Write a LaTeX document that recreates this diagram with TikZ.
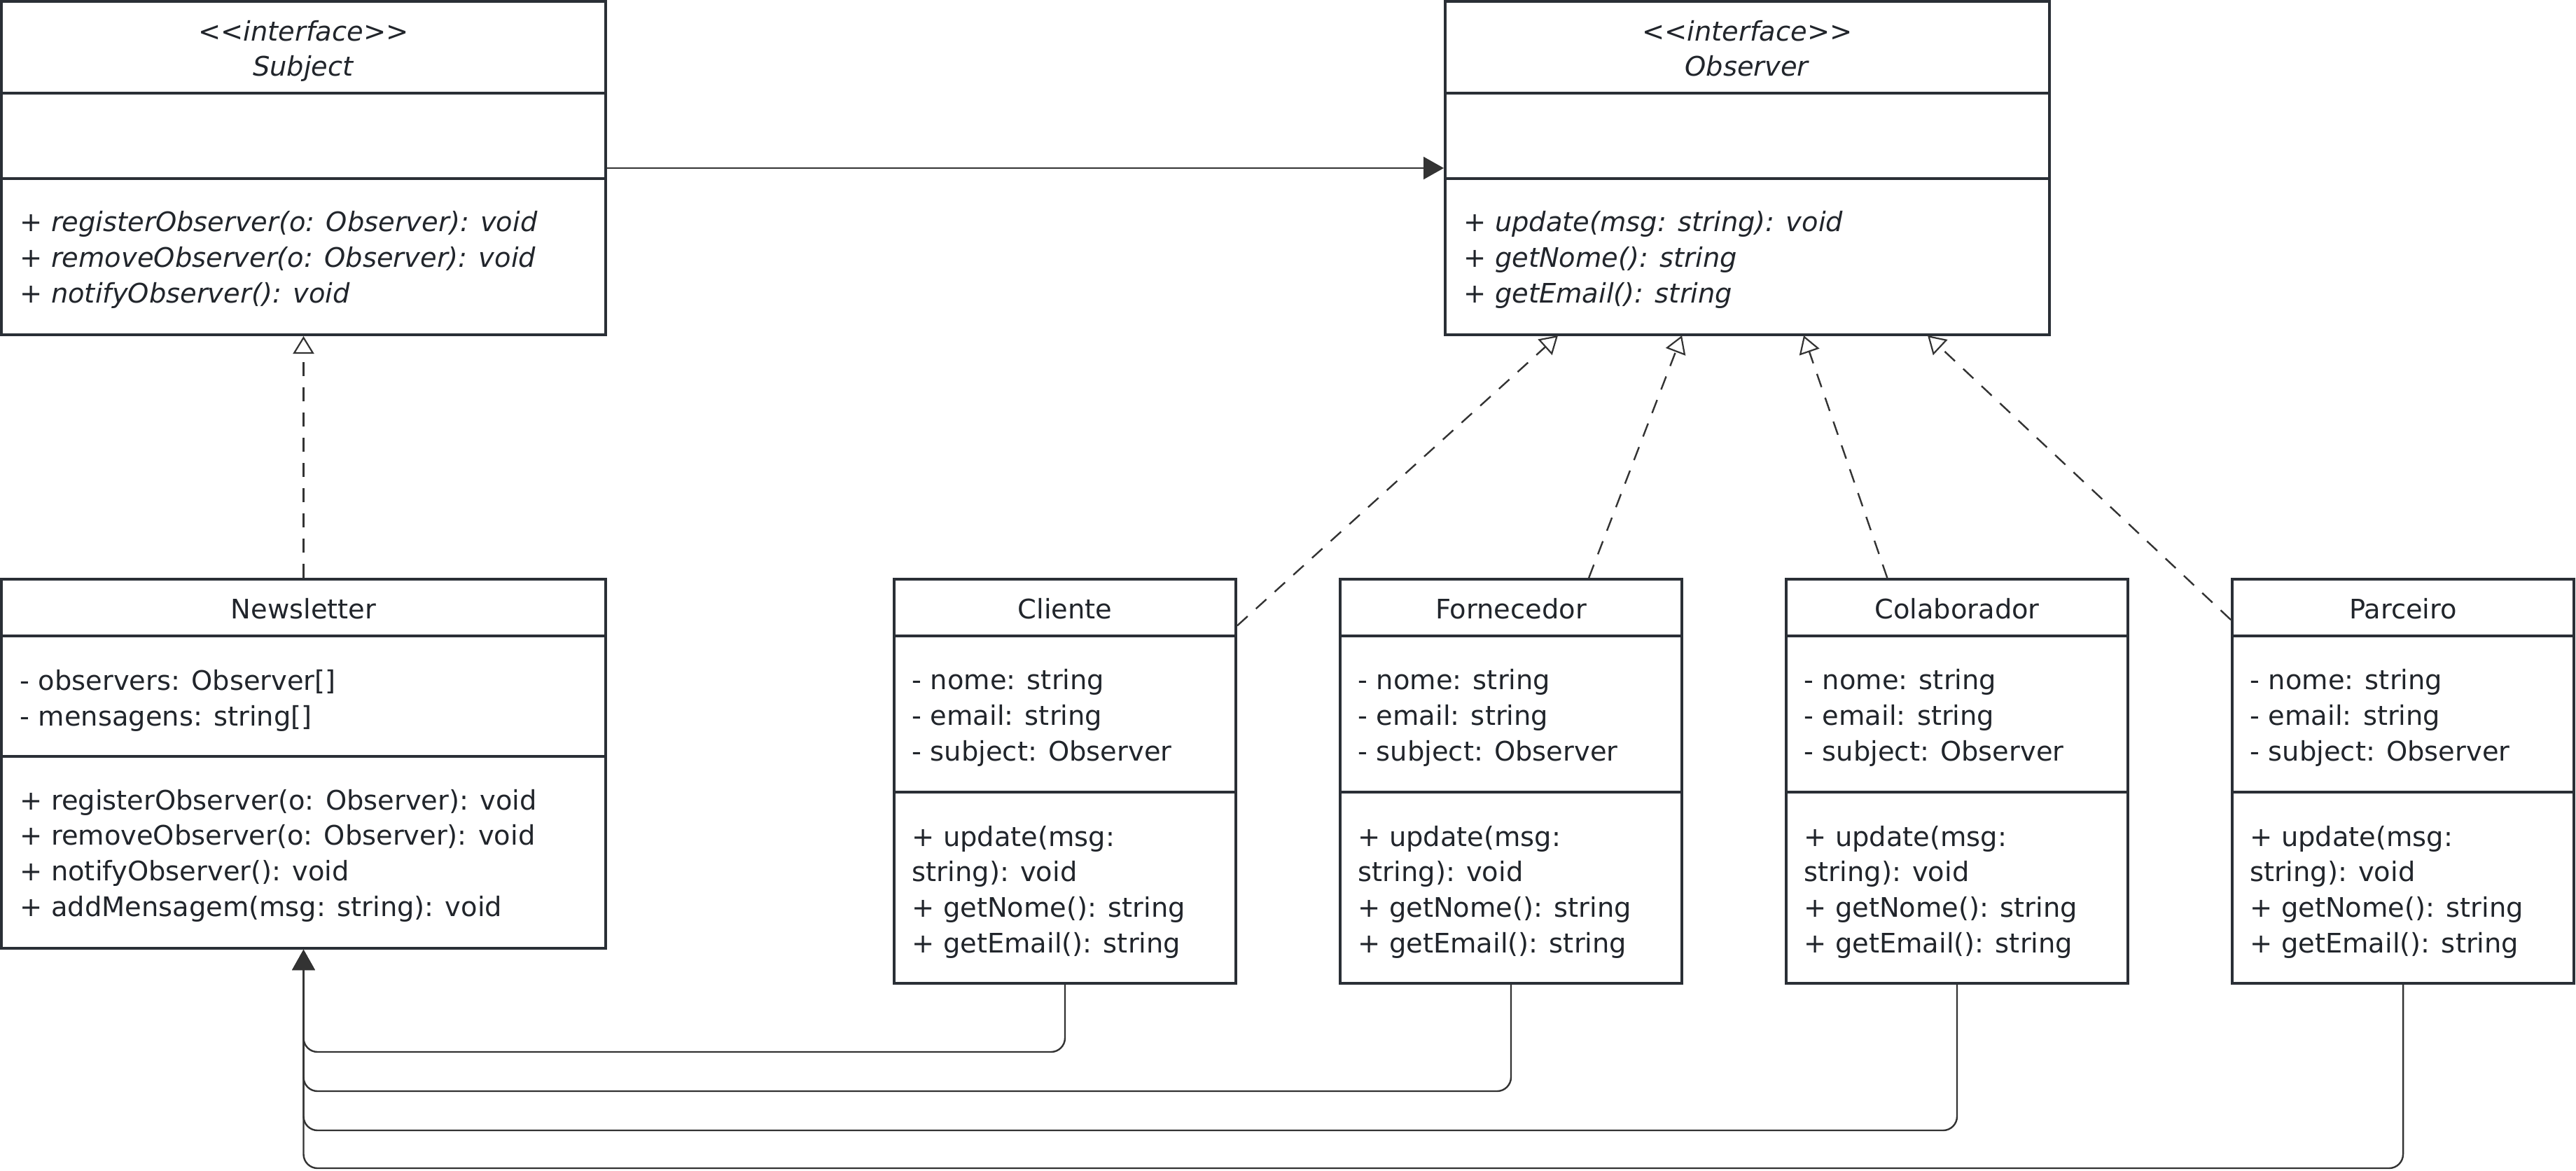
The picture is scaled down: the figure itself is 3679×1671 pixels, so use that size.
\documentclass[tikz,border=0pt]{standalone}
\usepackage{fontspec}
\setmainfont{DejaVu Sans}
\usetikzlibrary{arrows.meta,fit}
\definecolor{ink}{RGB}{42,47,54}
\definecolor{txt}{RGB}{33,37,43}
\definecolor{lnk}{RGB}{51,51,51}
\newcommand\stereo{<\kern0pt<interface>\kern0pt>}
\begin{document}
\begin{tikzpicture}[x=0.25pt,y=-0.25pt,
  box/.style={draw=ink, line width=1pt, inner sep=0pt, fill=white},
  div/.style={draw=ink, line width=1pt},
  lbl/.style={text=txt, font=\fontsize{9.6pt}{12pt}\selectfont, inner sep=0pt, anchor=base west},
  ttl/.style={text=txt, font=\fontsize{9.6pt}{12pt}\selectfont, inner sep=0pt, anchor=base},
  conn/.style={draw=lnk, line width=0.6pt},
  real/.style={conn, dash pattern=on 5pt off 4pt, -{Triangle[open, length=6.25pt, width=7.5pt, line width=0.55pt]}},
  assoc/.style={conn, -{Triangle[length=7.25pt, width=8pt]}}
]
\useasboundingbox (0,0) rectangle (3679,1671);

% ---- Subject
\node[box, fit={(2,2) (865,478)}] (subject) {};
\draw[div] (subject.west |- 0,133) -- (subject.east |- 0,133);
\draw[div] (subject.west |- 0,255) -- (subject.east |- 0,255);
\node[ttl] (s-st) at (433.5,58) {\textit{\stereo}};
\node[ttl] (s-nm) at (433.5,108) {\textit{Subject}};
\node[lbl] (s-m1) at (28,330) {\textit{+ registerObserver(o: Observer): void}};
\node[lbl] (s-m2) at (28,381) {\textit{+ removeObserver(o: Observer): void}};
\node[lbl] (s-m3) at (28,432) {\textit{+ notifyObserver(): void}};

% ---- Observer
\node[box, fit={(2064,2) (2927,478)}] (observer) {};
\draw[div] (observer.west |- 0,133) -- (observer.east |- 0,133);
\draw[div] (observer.west |- 0,255) -- (observer.east |- 0,255);
\node[ttl] (o-st) at (2495.5,58) {\textit{\stereo}};
\node[ttl] (o-nm) at (2495.5,108) {\textit{Observer}};
\node[lbl] (o-m1) at (2090,330) {\textit{+ update(msg: string): void}};
\node[lbl] (o-m2) at (2090,381) {\textit{+ getNome(): string}};
\node[lbl] (o-m3) at (2090,432) {\textit{+ getEmail(): string}};

% ---- Newsletter
\node[box, fit={(2,827) (865,1354)}] (newsletter) {};
\draw[div] (newsletter.west |- 0,908) -- (newsletter.east |- 0,908);
\draw[div] (newsletter.west |- 0,1080) -- (newsletter.east |- 0,1080);
\node[ttl] (n-nm) at (433.5,883) {Newsletter};
\node[lbl] (n-a1) at (28,985) {- observers: Observer[]};
\node[lbl] (n-a2) at (28,1036) {- mensagens: string[]};
\node[lbl] (n-m1) at (28,1156) {+ registerObserver(o: Observer): void};
\node[lbl] (n-m2) at (28,1206) {+ removeObserver(o: Observer): void};
\node[lbl] (n-m3) at (28,1257) {+ notifyObserver(): void};
\node[lbl] (n-m4) at (28,1308) {+ addMensagem(msg: string): void};

% ---- concrete observers
\foreach \n/\t/\x in {cli/Cliente/1277, forn/Fornecedor/1914, col/Colaborador/2551, par/Parceiro/3188}{
  \pgfmathsetmacro\xr{\x+488}
  \pgfmathsetmacro\xc{\x+244}
  \pgfmathsetmacro\xt{\x+25}
  \node[box, fit={(\x,827) (\xr,1404)}] (\n) {};
  \draw[div] (\n.west |- 0,908) -- (\n.east |- 0,908);
  \draw[div] (\n.west |- 0,1131) -- (\n.east |- 0,1131);
  \node[ttl] (\n-nm) at (\xc,883) {\t};
  \node[lbl] (\n-a1) at (\xt,984) {- nome: string};
  \node[lbl] (\n-a2) at (\xt,1035) {- email: string};
  \node[lbl] (\n-a3) at (\xt,1086) {- subject: Observer};
  \node[lbl] (\n-m1) at (\xt,1208) {+ update(msg:};
  \node[lbl] (\n-m2) at (\xt,1258) {string): void};
  \node[lbl] (\n-m3) at (\xt,1309) {+ getNome(): string};
  \node[lbl] (\n-m4) at (\xt,1360) {+ getEmail(): string};
}

% ---- connectors
\draw[assoc] (subject.east) -- (observer.west);
\draw[real] (newsletter.north) -- (subject.south);

\coordinate (t1) at (2225,479);
\coordinate (t2) at (2402,479);
\coordinate (t3) at (2576,479);
\coordinate (t4) at (2753,479);
\draw[real] (cli) -- (t1);
\draw[real] (forn) -- (t2);
\draw[real] (col) -- (t3);
\draw[real] (par) -- (t4);

\coordinate (h1) at (433.5,1502);
\coordinate (h2) at (433.5,1558);
\coordinate (h3) at (433.5,1614);
\coordinate (h4) at (433.5,1668);
\draw[assoc, rounded corners=5pt] (cli.south) |- (h1) -- (newsletter.south);
\draw[assoc, rounded corners=5pt] (forn.south) |- (h2) -- (newsletter.south);
\draw[assoc, rounded corners=5pt] (col.south) |- (h3) -- (newsletter.south);
\draw[assoc, rounded corners=5pt] (par.south) |- (h4) -- (newsletter.south);
\end{tikzpicture}
\end{document}
